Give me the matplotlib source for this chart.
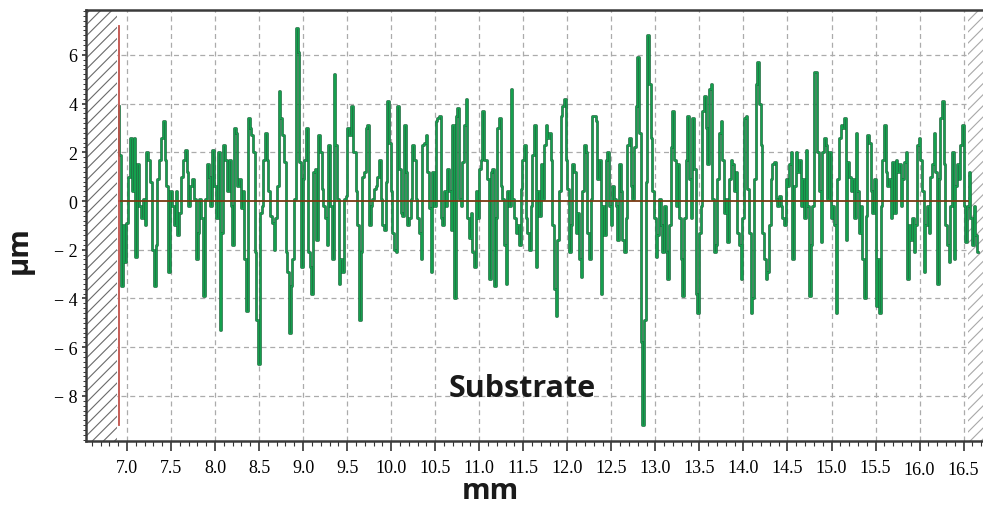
import numpy as np
import matplotlib
matplotlib.use("Agg")
import matplotlib.pyplot as plt
from matplotlib.ticker import MultipleLocator

# ---------------- data ----------------
start_x = [6.905, 6.915]
start_vals = [3.9, 1.9]

seg_start_mm = [6.94, 8.226, 9.588, 10.950, 12.312, 13.675, 15.036]
seg_end_mm = [8.207, 9.550, 10.931, 12.293, 13.655, 15.017, 16.663]

seg1 = [-3.5, -1.0, -2.5, -0.9, 1.0, 2.6, 0.4, 2.6, -2.3, 1.5, -0.2, -0.7, 0.1, -1.0, 2.0, 1.7, 0.8, -2.0,
        -3.5, -1.8, 0.9, 1.7, 2.6, 3.3, 1.7, 0.6, -2.9, 0.4, -0.2, -1.0, 0.4, -1.4, -0.5, 1.0, 1.7, 2.1,
        1.2, -0.2, 0.6, 0.9, 0.1, -2.4, -1.3, 0.1, -0.7, -3.9, 0.1, 1.5, 1.0, -0.2, 2.1, 0.6, -0.7, 2.0,
        -5.3, -1.3, 2.3, 1.7, 0.4, 1.7, -0.2, -1.8]
seg2 = [3.0, 2.8, 0.6, 0.9, -0.3, 0.4, -2.4, -4.5, 3.4, 3.0, 2.7, 2.0, -2.1, -4.9, -6.7, -0.5, -0.2, 1.7,
        2.8, 1.7, 0.4, -0.6, -0.9, -2.0, -0.7, 0.6, 4.5, 3.4, 2.7, 1.6, -2.1, -2.9, -5.4, -3.5, -2.4, 0.1,
        7.1, 6.1, 1.6, -2.7, 0.9, 1.7, 3.0, -2.1, -2.7, -3.8, 1.2, 1.3, -1.6, 2.7, 2.0, 0.5, -0.2, -0.7,
        -1.8, 2.3, -0.2, -2.4, 5.2, 2.3, 0.1, -3.4, -2.4, -2.9, 0.1, 0.2, 3.0, 2.7, 3.9]
seg3 = [2.0, 0.4, -1.0, -4.9, -2.1, 1.0, 1.2, 3.0, 3.1, -1.0, -0.2, 0.1, 0.5, 0.6, 1.0, 1.7, 0.1, -1.0,
        -1.2, 0.8, 4.1, 2.4, 0.4, -1.3, -2.0, -2.1, 3.9, 1.3, -0.5, -0.6, 3.1, 1.2, -1.0, -0.7, 0.1, 2.3,
        1.7, 0.1, -0.7, -1.3, -2.4, 2.3, 2.4, 2.7, 1.2, -0.3, -2.9, 1.2, -0.2, 3.3, 3.4, 3.5, -0.7, -1.0,
        0.4, -0.2, 1.3, 0.4, -1.2, 3.1, -4.0, 3.5, 3.8, 0.1, -0.2, 1.6, 3.1, 4.2, -0.7, -1.5, -0.5, -2.1]
seg4 = [-2.7, 0.4, -0.7, 1.3, 1.7, 3.7, 1.7, 1.7, 0.9, -3.2, 1.2, 1.3, -3.5, -0.7, 3.0, 3.4, 0.6, 0.1,
        -1.8, -3.4, 0.4, -0.2, 4.6, 0.1, -0.7, -1.3, -1.0, -1.8, 0.5, 1.7, 2.3, -0.7, -1.3, -2.0, -0.2, 1.9,
        3.1, -2.7, 0.4, -0.6, 1.5, 0.1, 2.3, 3.1, 2.6, 2.8, 1.7, -1.0, -3.6, -4.7, -1.6, 0.4, 3.5, 3.9,
        4.2, 1.7, 0.5, -2.1, -1.0, 1.5, 1.2, -1.3, -0.5, -2.4, -3.1, 0.4, 2.3, 2.0, -1.3, -2.4, 0.1, 3.5]
seg5 = [3.5, 3.3, 0.9, 1.7, -3.8, -0.2, -1.4, 1.7, 2.0, -0.2, -1.0, 0.6, 0.1, -0.2, -1.6, 1.5, 0.4, -1.6,
        -2.1, -0.7, 2.3, 2.6, 0.6, 0.1, 2.2, 3.9, 5.9, 2.8, -5.8, -9.2, -4.9, 0.8, 6.8, 4.8, 2.6, 0.4,
        -0.7, -2.3, -1.4, 0.1, -1.0, -2.1, -0.2, -2.1, -3.2, -1.0, 2.2, 3.7, 1.7, -0.2, 1.5, -0.7, -2.4, -3.9,
        -0.7, 1.7, 3.5, 0.9, -0.7, 3.4, 1.3, -3.8, -4.6, -1.3, -0.2, 3.7, 4.3, 3.0, 1.5, 4.6, 4.8, 0.1]
seg6 = [-2.1, -1.8, 0.9, 2.8, 3.3, 1.7, -0.5, 0.1, -1.7, 0.9, 1.7, 1.5, 0.4, 1.2, -1.3, -1.8, -3.2, -0.7,
        3.4, 3.5, 0.5, -1.3, -4.6, -4.0, 0.9, 4.8, 5.7, 4.0, 2.3, -1.3, -2.4, -3.2, -2.9, -1.0, 0.9, 1.5,
        1.6, 0.1, -0.2, 0.2, -0.2, -0.7, -1.0, 0.9, 0.6, 1.5, 2.0, -2.4, 0.6, 2.0, 1.2, 1.7, -0.2, 0.9,
        -0.7, 2.1, -0.2, -3.9, -1.8, -0.2, 5.3, 5.3, 2.0, 0.4, -1.7, 2.0, 2.6, 2.3, 0.1, 2.0, -0.7, -0.2]
seg7 = [-1.0, -4.6, 0.9, 2.6, 3.1, 3.0, 3.4, -1.6, 1.6, 1.0, 0.4, 0.9, -0.7, 2.8, 0.4, -1.3, -0.2, -2.4,
        -4.0, -0.6, 2.7, 2.4, 0.4, -0.5, 0.9, -4.3, -2.4, -4.6, -0.2, 1.7, 3.1, 1.2, 0.6, 0.9, -0.7, 1.6,
        -0.5, 1.7, 1.2, 1.5, -0.2, 0.9, 1.6, 2.0, -3.2, -1.0, -1.6, -0.7, -2.1, -1.0, 2.3, 2.6, 1.7, 0.4,
        -2.9, -1.0, -0.2, -1.3, 1.0, 1.5, 2.8, 1.2, -3.4, 0.9, 3.4, 4.1, 1.5, -1.0, -1.8, -2.5, -0.2, 2.0,
        -2.4, 0.6, 1.5, 0.9, 2.3, 3.1, -0.2, -1.7, -0.2, 1.2, -0.7, -1.8, -0.2, -1.4, -2.1]
segments = [seg1, seg2, seg3, seg4, seg5, seg6, seg7]

ref_x = 6.91          # red reference line position (mm)
ref_top, ref_bottom = 7.2, -9.2
zero_end = 16.55
hatch_left_end = 6.885
hatch_right_start = 16.55

xticks = [7.0, 7.5, 8.0, 8.5, 9.0, 9.5, 10.0, 10.5, 11.0, 11.5, 12.0, 12.5, 13.0, 13.5,
          14.0, 14.5, 15.0, 15.5, 16.0, 16.5]
xtick_labels = ["7.0", "7.5", "8.0", "8.5", "9.0", "9.5", "10.0", "10.5", "11.0", "11.5", "12.0",
                "12.5", "13.0", "13.5", "14.0", "14.5", "15.0", "15.5", "16.0", "16.5"]
yticks = [-8, -6, -4, -2, 0, 2, 4, 6]
ytick_labels = ["\u2212 8", "\u2212 6", "\u2212 4", "\u2212 2", "0", "2", "4", "6"]

# ---------------- build profile ----------------
xs = list(start_x)
ys = list(start_vals)
for s0, s1, seg in zip(seg_start_mm, seg_end_mm, segments):
    xs.extend(np.linspace(s0, s1, len(seg)))
    ys.extend(seg)
xs = np.array(xs)
ys = np.array(ys)

# ---------------- figure ----------------
plt.rcParams["hatch.linewidth"] = 0.8
fig = plt.figure(figsize=(9.83, 5.10), dpi=100)
ax = fig.add_axes([86 / 983, 68 / 510, 1 - 86 / 983, (442 - 11) / 510])
ax.set_xlim(6.535, 16.72)
ax.set_ylim(-9.85, 7.84)

# grid
for xv in xticks:
    ax.axvline(xv, color="#ababab", lw=0.9, ls=(0, (4, 3)), zorder=1)
for yv in yticks:
    if yv != 0:
        ax.axhline(yv, color="#ababab", lw=0.9, ls=(0, (4, 3)), zorder=1)

# hatched margins
ax.axvspan(6.535, hatch_left_end, facecolor="white", edgecolor="#6a6a6a", hatch="///", lw=0, zorder=2)
ax.axvspan(hatch_right_start, 16.72, facecolor="white", edgecolor="#a8a8a8", hatch="///", lw=0, zorder=2)

# profile
ax.plot(xs, ys, color="#236b42", lw=1.9, zorder=3, drawstyle="steps-mid")
ax.plot(xs, ys, color="#14a04e", lw=0.9, zorder=4, drawstyle="steps-mid")

# reference lines
ax.plot([ref_x, zero_end], [0, 0], color="#7a3a12", lw=1.3, zorder=5)
ax.plot([ref_x, ref_x], [ref_bottom, ref_top], color="#c0504a", lw=1.3, zorder=5)

# ticks
ax.set_xticks(xticks)
ax.set_xticklabels(xtick_labels, family="Liberation Serif", fontsize=13)
ax.xaxis.set_minor_locator(MultipleLocator(0.1))
ax.set_yticks(yticks)
ax.set_yticklabels(ytick_labels, family="Liberation Serif", fontsize=13)
ax.yaxis.set_minor_locator(MultipleLocator(0.2))
ax.tick_params(axis="x", which="major", length=7, width=1.2, direction="out", color="#333", pad=6)
ax.tick_params(axis="x", which="minor", length=3.5, width=0.8, direction="out", color="#333")
ax.tick_params(axis="y", which="major", length=6, width=1.2, direction="inout", color="#333", pad=3)
ax.tick_params(axis="y", which="minor", length=4, width=0.7, direction="inout", color="#333")
# the last two x labels sit slightly lower in the reference
for lbl in ax.get_xticklabels()[-2:]:
    lbl.set_y(-0.005)

for side in ["left", "bottom", "top"]:
    ax.spines[side].set_color("#3a3a3a")
    ax.spines[side].set_linewidth(1.8)
ax.spines["right"].set_visible(False)

# texts
ax.text(0.486, 0.122, "Substrate", transform=ax.transAxes, ha="center", va="center",
        family="Open Sans", fontweight="bold", fontsize=22, color="#1a1a1a", zorder=6)
fig.text(490 / 983, 1 - 492 / 510, "mm", ha="center", va="center",
         family="Open Sans", fontweight="bold", fontsize=21, color="#1a1a1a")
fig.text(19 / 983, 1 - 250 / 510, "\u00b5m", ha="center", va="center", rotation=90,
         family="Open Sans", fontweight="bold", fontsize=21, color="#1a1a1a")

fig.savefig("out.png", dpi=100)
